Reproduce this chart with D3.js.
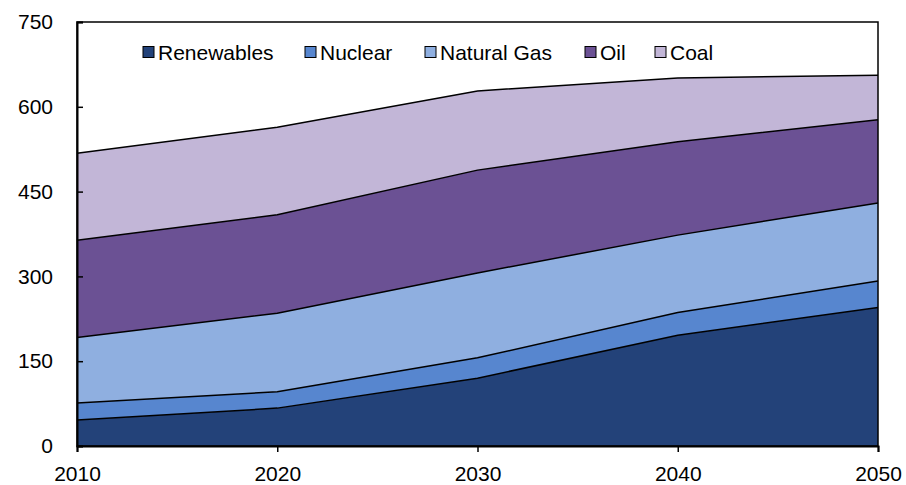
<!DOCTYPE html>
<html>
<head>
<meta charset="utf-8">
<script src="https://cdn.jsdelivr.net/npm/d3@7"></script>
<style>
  html, body { margin: 0; padding: 0; background: #fff; }
  svg { display: block; font-family: Arial, "Liberation Sans", sans-serif; }
</style>
</head>
<body>
<svg id="chart" width="906" height="485"></svg>
<script>
// Energy consumption by source, stacked
const years = [2010, 2020, 2030, 2040, 2050];
const renewables = [46, 67, 120, 196, 245];
const nuclear = [30, 29, 36, 40, 47];
const naturalGas = [116, 139, 150, 137, 138];
const oil = [172, 174, 182, 165, 147];
const coal = [154, 155, 140, 113, 79];
const seriesNames = ["Renewables", "Nuclear", "Natural Gas", "Oil", "Coal"];
const seriesColors = ["#234279", "#5786CF", "#8FAFE0", "#6B5194", "#C2B6D7"];
const yTicks = [0, 150, 300, 450, 600, 750];

const seriesValues = [renewables, nuclear, naturalGas, oil, coal];
const rows = years.map((y, i) => {
  const r = { year: y };
  seriesNames.forEach((n, k) => { r[n] = seriesValues[k][i]; });
  return r;
});

const svg = d3.select("#chart");
const margin = { left: 77, right: 28, top: 22, bottom: 39 };
const W = 906, H = 485;
const x = d3.scaleLinear().domain([2010, 2050]).range([margin.left, W - margin.right]);
const y = d3.scaleLinear().domain([0, 750]).range([H - margin.bottom, margin.top]);

const stack = d3.stack().keys(seriesNames);
const layers = stack(rows);

const area = d3.area()
  .x(d => x(d.data.year))
  .y0(d => y(d[0]))
  .y1(d => y(d[1]));
const topLine = d3.line()
  .x(d => x(d.data.year))
  .y(d => y(d[1]));

svg.append("g").selectAll("path")
  .data(layers)
  .join("path")
  .attr("d", area)
  .attr("fill", (d, i) => seriesColors[i]);

svg.append("g").selectAll("path")
  .data(layers)
  .join("path")
  .attr("d", topLine)
  .attr("fill", "none")
  .attr("stroke", "#000")
  .attr("stroke-width", 1.5);

// plot frame
svg.append("rect")
  .attr("x", x(2010)).attr("y", y(750))
  .attr("width", x(2050) - x(2010)).attr("height", y(0) - y(750))
  .attr("fill", "none").attr("stroke", "#000").attr("stroke-width", 1.5);

// y axis: ticks point inward, labels on the left
const yAxis = d3.axisRight(y).tickValues(yTicks).tickSize(6).tickFormat(d3.format("d"));
const gy = svg.append("g").attr("transform", `translate(${x(2010)},0)`).call(yAxis);
gy.select(".domain").attr("stroke", "#000").attr("stroke-width", 2);
gy.selectAll(".tick line").attr("stroke", "#000").attr("stroke-width", 1.5);
gy.selectAll(".tick text")
  .attr("x", -24).attr("text-anchor", "end")
  .attr("font-size", 21).attr("fill", "#000")
  .attr("font-family", "Arial, 'Liberation Sans', sans-serif");

// x axis
const xAxis = d3.axisBottom(x).tickValues(years).tickSize(6).tickFormat(d3.format("d"));
const gx = svg.append("g").attr("transform", `translate(0,${y(0)})`).call(xAxis);
gx.select(".domain").attr("stroke", "#000").attr("stroke-width", 2);
gx.selectAll(".tick line").attr("stroke", "#000").attr("stroke-width", 1.5);
gx.selectAll(".tick text")
  .attr("y", 20).attr("font-size", 21).attr("fill", "#000")
  .attr("font-family", "Arial, 'Liberation Sans', sans-serif");

// legend
const legendX = [143, 305, 425, 585, 655];
const lg = svg.append("g").attr("transform", "translate(0,52)");
seriesNames.forEach((n, i) => {
  lg.append("rect")
    .attr("x", legendX[i]).attr("y", -5.5)
    .attr("width", 11).attr("height", 11)
    .attr("fill", seriesColors[i]).attr("stroke", "#000").attr("stroke-width", 1);
  lg.append("text")
    .attr("x", legendX[i] + 15).attr("y", 7.5)
    .attr("font-size", 21).attr("fill", "#000")
    .text(n);
});
</script>
</body>
</html>
